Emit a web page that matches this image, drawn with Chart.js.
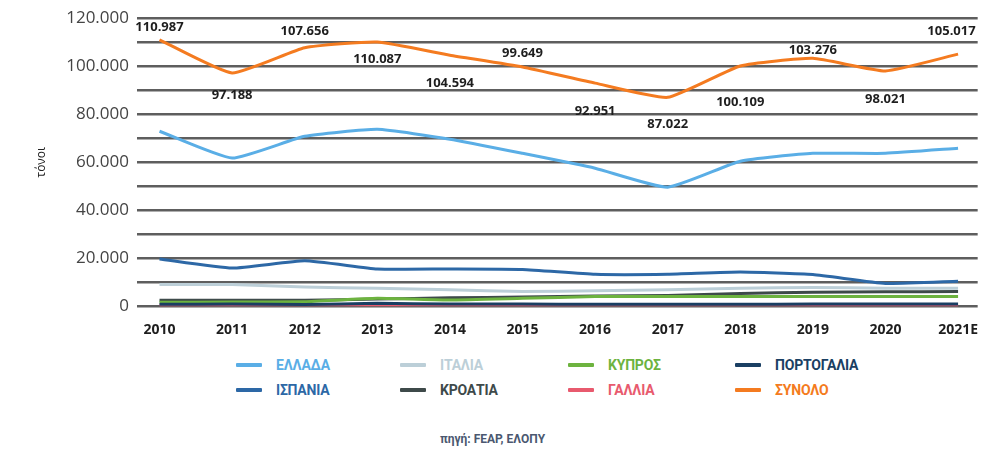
<!DOCTYPE html>
<html>
<head>
<meta charset="utf-8">
<script src="https://cdn.jsdelivr.net/npm/chart.js@4"></script>
<style>
    body { margin: 0; background: #fff; }
    #wrap { position: relative; width: 985px; height: 455px; }
    #chart { position: absolute; left: 0; top: 0; }
    .lg { position: absolute; display: flex; align-items: center; font: bold 14px Roboto, sans-serif; letter-spacing: -0.2px; }
    .lg span.sw { display: inline-block; width: 26px; height: 4px; margin-right: 14px; border-radius: 1px; }
    #src { position: absolute; left: 0; width: 985px; top: 432px; text-align: center; font: bold 12px Roboto, sans-serif; color: #4b5870; }
</style>
</head>
<body>
<div id="wrap">
    <canvas id="chart" width="985" height="345"></canvas>
    <div id="src">πηγή: FEAP, ΕΛΟΠΥ</div>
</div>
<script>
const years = ['2010', '2011', '2012', '2013', '2014', '2015', '2016', '2017', '2018', '2019', '2020', '2021E'];

const greece   = [72900, 61700, 70800, 73700, 69600, 63700, 57500, 49600, 60400, 63700, 63700, 65800];
const spain    = [19700, 15900, 18900, 15500, 15500, 15300, 13300, 13300, 14200, 13200, 9500, 10400];
const italy    = [9000, 9000, 8000, 7500, 6900, 6100, 6400, 6900, 7500, 7800, 7500, 7500];
const croatia  = [2500, 2500, 2500, 3000, 3500, 3800, 4200, 4500, 5300, 5800, 6000, 6100];
const cyprus   = [1600, 1700, 1900, 3300, 2600, 3300, 4000, 4000, 4000, 4000, 4000, 4000];
const france   = [300, 300, 300, 300, 300, 300, 300, 300, 300, 300, 300, 300];
const portugal = [800, 900, 700, 1200, 900, 900, 800, 800, 800, 900, 900, 900];
const total    = [110987, 97188, 107656, 110087, 104594, 99649, 92951, 87022, 100109, 103276, 98021, 105017];

// vertical nudge (px) of each total label relative to its point
const totalLabelShift = [-13, 22, -17, 17, 28, -14, 28, 27, 36, -8, 28, -23];

const series = [
    { name: 'ΕΛΛΑΔΑ', data: greece, color: '#5aaee6' },
    { name: 'ΙΣΠΑΝΙΑ', data: spain, color: '#2d68a6' },
    { name: 'ΙΤΑΛΙΑ', data: italy, color: '#bccfd8' },
    { name: 'ΚΡΟΑΤΙΑ', data: croatia, color: '#3e4a4a' },
    { name: 'ΚΥΠΡΟΣ', data: cyprus, color: '#6db33f' },
    { name: 'ΓΑΛΛΙΑ', data: france, color: '#e85a6e' },
    { name: 'ΠΟΡΤΟΓΑΛΙΑ', data: portugal, color: '#1a3f63' },
    { name: 'ΣΥΝΟΛΟ', data: total, color: '#f47b20' }
];

// legend grid order (row by row)
const legendOrder = ['ΕΛΛΑΔΑ', 'ΙΤΑΛΙΑ', 'ΚΥΠΡΟΣ', 'ΠΟΡΤΟΓΑΛΙΑ', 'ΙΣΠΑΝΙΑ', 'ΚΡΟΑΤΙΑ', 'ΓΑΛΛΙΑ', 'ΣΥΝΟΛΟ'];

const fmt = v => Math.round(v).toString().replace(/\B(?=(\d{3})+(?!\d))/g, '.');

const totalLabels = {
    id: 'totalLabels',
    afterDatasetsDraw(chart) {
        const idx = chart.data.datasets.findIndex(d => d.label === 'ΣΥΝΟΛΟ');
        const meta = chart.getDatasetMeta(idx);
        const ctx = chart.ctx;
        const area = chart.chartArea;
        ctx.save();
        ctx.font = 'bold 13px "Open Sans"';
        ctx.fillStyle = '#1e1e1e';
        ctx.textAlign = 'center';
        ctx.textBaseline = 'middle';
        meta.data.forEach((pt, i) => {
            const txt = fmt(total[i]);
            const w = ctx.measureText(txt).width;
            let x = pt.x;
            if (x + w / 2 > area.right - 2) x = area.right - 2 - w / 2;
            ctx.fillText(txt, x, pt.y + totalLabelShift[i]);
        });
        ctx.restore();
    }
};

const datasets = series.map(s => ({
    label: s.name,
    data: s.data.map((v, i) => ({ x: i, y: v })),
    borderColor: s.color,
    backgroundColor: s.color,
    borderWidth: 3,
    pointRadius: 0,
    tension: 0.15
}));
// draw small series beneath, totals on top
datasets.reverse();

new Chart(document.getElementById('chart').getContext('2d'), {
    type: 'line',
    data: { datasets: datasets },
    options: {
        responsive: false,
        animation: false,
        layout: { padding: { top: 7, right: 0, left: 0, bottom: 0 } },
        plugins: {
            legend: { display: false },
            tooltip: { enabled: false }
        },
        scales: {
            x: {
                type: 'linear',
                min: -0.31,
                max: 11.27,
                afterBuildTicks: s => { s.ticks = years.map((y, i) => ({ value: i })); },
                grid: { display: false },
                border: { display: false },
                ticks: {
                    padding: 7,
                    color: '#1e1e1e',
                    font: { family: 'Open Sans', weight: 'bold', size: 14 },
                    maxRotation: 0,
                    callback: v => years[v] ?? ''
                }
            },
            y: {
                min: 0,
                max: 120000,
                afterFit: s => { s.width = 137; },
                border: { display: false },
                grid: { color: '#5e5e5e', lineWidth: 2.5, drawTicks: false },
                title: {
                    display: true,
                    text: 'τόνοι',
                    color: '#222',
                    font: { family: 'Open Sans', size: 12 },
                    padding: { top: 34, bottom: 0 }
                },
                ticks: {
                    stepSize: 10000,
                    padding: 8,
                    color: '#444',
                    font: { family: 'Open Sans', size: 17 },
                    callback: v => v % 20000 === 0 ? fmt(v) : ''
                }
            }
        }
    },
    plugins: [totalLabels]
});

// html legend in a 4-column grid
const wrap = document.getElementById('wrap');
const colX = [236, 400, 568, 735];
const rowY = [357, 382];
legendOrder.forEach((name, i) => {
    const s = series.find(d => d.name === name);
    const el = document.createElement('div');
    el.className = 'lg';
    el.style.left = colX[i % 4] + 'px';
    el.style.top = rowY[Math.floor(i / 4)] + 'px';
    el.style.color = s.color;
    el.innerHTML = '<span class="sw" style="background:' + s.color + '"></span>' + name;
    wrap.appendChild(el);
});
</script>
</body>
</html>
